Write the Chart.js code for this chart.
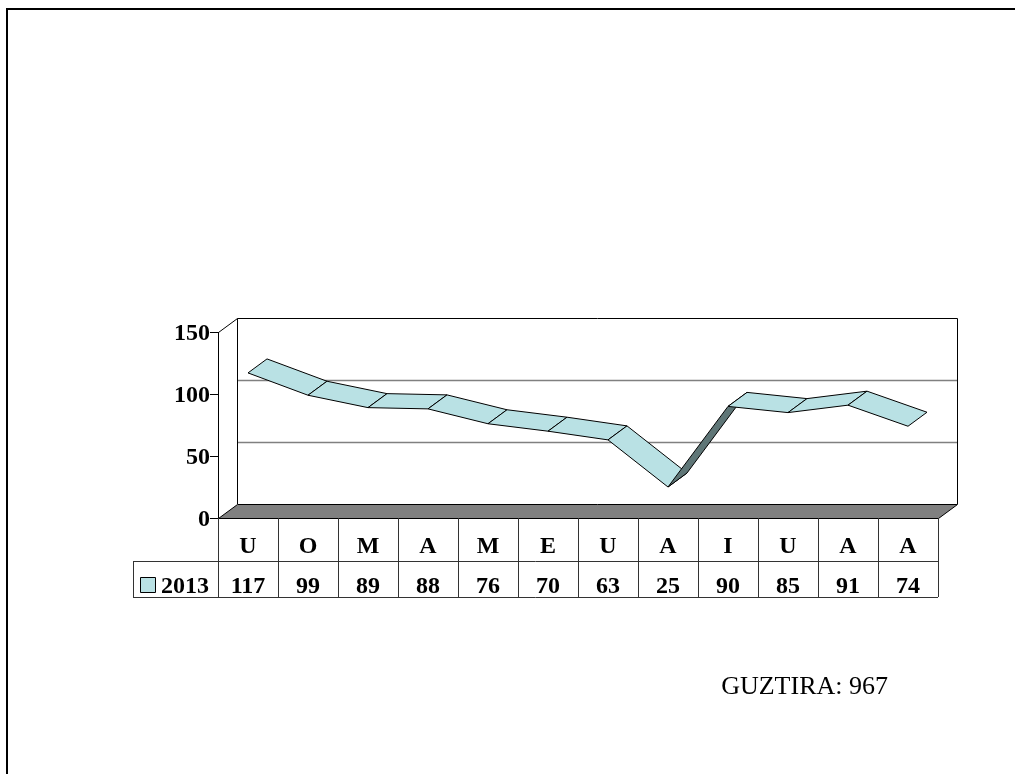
<!DOCTYPE html>
<html>
<head>
<meta charset="utf-8">
<script src="https://cdn.jsdelivr.net/npm/chart.js@4"></script>
<style>
  html, body { margin: 0; padding: 0; background: #fff; }
  #wrap { width: 1015px; height: 774px; }
</style>
</head>
<body>
<div id="wrap"><canvas id="chart" width="1015" height="774"></canvas></div>
<script>
// monthly counts
const categories = ['U', 'O', 'M', 'A', 'M', 'E', 'U', 'A', 'I', 'U', 'A', 'A'];
const values2013 = [117, 99, 89, 88, 76, 70, 63, 25, 90, 85, 91, 74];
const seriesName = '2013';
const yTicks = [0, 50, 100, 150];
const totalText = 'GUZTIRA';

const FONT = "'Liberation Serif', 'Times New Roman', serif";
const RIBBON_TOP = '#b9e1e4';
const RIBBON_UNDER = '#5f7677';
const DX = 19, DY = -14;   // depth offset of the 3d box

function line(ctx, x1, y1, x2, y2) {
    ctx.beginPath();
    ctx.moveTo(x1, y1);
    ctx.lineTo(x2, y2);
    ctx.stroke();
}

const ribbon3d = {
    id: 'ribbon3d',
    beforeDatasetsDraw(chart) {
        const { ctx, chartArea: a, scales: { x, y } } = chart;
        const left = a.left, right = a.right;
        const top = y.getPixelForValue(y.max), bottom = y.getPixelForValue(0);
        ctx.save();

        // outer frame
        ctx.strokeStyle = '#000';
        ctx.lineWidth = 2;
        ctx.strokeRect(7, 9, 1100, 1000);

        // back wall gridlines
        ctx.lineWidth = 1.5;
        ctx.strokeStyle = '#808080';
        yTicks.forEach(v => {
            if (v > 0 && v < y.max) {
                const py = Math.round(y.getPixelForValue(v) + DY) + 0.5;
                line(ctx, left + DX, py, right + DX, py);
            }
        });

        // back wall outline + side edge
        ctx.lineWidth = 1;
        ctx.strokeStyle = '#000';
        ctx.beginPath();
        ctx.moveTo(left + DX + 0.5, bottom + DY);
        ctx.lineTo(left + DX + 0.5, top + DY + 0.5);
        ctx.lineTo(right + DX + 0.5, top + DY + 0.5);
        ctx.lineTo(right + DX + 0.5, bottom + DY);
        ctx.stroke();
        line(ctx, left + 0.5, top + 0.5, left + DX + 0.5, top + DY + 0.5);

        // floor
        ctx.fillStyle = '#808080';
        ctx.beginPath();
        ctx.moveTo(left + 0.5, bottom + 0.5);
        ctx.lineTo(left + DX + 0.5, bottom + DY + 0.5);
        ctx.lineTo(right + DX + 0.5, bottom + DY + 0.5);
        ctx.lineTo(right + 0.5, bottom + 0.5);
        ctx.closePath();
        ctx.fill();
        ctx.stroke();

        // ribbon segments
        const pts = chart.getDatasetMeta(0).data.map(p => ({ x: p.x, y: p.y }));
        ctx.lineJoin = 'round';
        for (let i = 0; i < pts.length - 1; i++) {
            const p = pts[i], q = pts[i + 1];
            const cross = (q.x - p.x) * DY - (q.y - p.y) * DX;
            ctx.fillStyle = cross < 0 ? RIBBON_TOP : RIBBON_UNDER;
            ctx.beginPath();
            ctx.moveTo(p.x, p.y);
            ctx.lineTo(q.x, q.y);
            ctx.lineTo(q.x + DX, q.y + DY);
            ctx.lineTo(p.x + DX, p.y + DY);
            ctx.closePath();
            ctx.fill();
            ctx.stroke();
        }

        // front value axis
        line(ctx, left + 0.5, top, left + 0.5, bottom);
        ctx.font = 'bold 24px ' + FONT;
        ctx.fillStyle = '#000';
        ctx.textAlign = 'right';
        ctx.textBaseline = 'middle';
        yTicks.forEach(v => {
            const py = Math.round(y.getPixelForValue(v)) + 0.5;
            line(ctx, left - 8, py, left, py);
            ctx.fillText(String(v), left - 8, py + 1);
        });

        // data table
        const rowMid = 561, rowEnd = 597, legLeft = 133;
        const half = (x.getPixelForValue(1) - x.getPixelForValue(0)) / 2;
        ctx.strokeStyle = '#333';
        for (let i = 0; i <= categories.length; i++) {
            const px = Math.round(x.getPixelForValue(Math.min(i, categories.length - 1)) + (i < categories.length ? -half : half)) + 0.5;
            line(ctx, px, bottom, px, rowEnd);
        }
        line(ctx, legLeft, rowMid + 0.5, right, rowMid + 0.5);
        line(ctx, legLeft, rowEnd + 0.5, right, rowEnd + 0.5);
        line(ctx, legLeft + 0.5, rowMid, legLeft + 0.5, rowEnd);

        ctx.textAlign = 'center';
        ctx.textBaseline = 'alphabetic';
        categories.forEach((c, i) => {
            const cx = x.getPixelForValue(i);
            ctx.fillText(c, cx, 553);
            ctx.fillText(String(values2013[i]), cx, 593);
        });

        // legend key
        ctx.fillStyle = RIBBON_TOP;
        ctx.fillRect(140.5, 577.5, 15, 15);
        ctx.strokeStyle = '#000';
        ctx.strokeRect(140.5, 577.5, 15, 15);
        ctx.fillStyle = '#000';
        ctx.textAlign = 'left';
        ctx.fillText(seriesName, 161, 593);

        // total
        const total = values2013.reduce((s, v) => s + v, 0);
        ctx.font = '26px ' + FONT;
        ctx.textAlign = 'right';
        ctx.fillText(totalText + ': ' + total, 888, 694);

        ctx.restore();
    }
};

new Chart(document.getElementById('chart'), {
    type: 'line',
    data: {
        labels: categories,
        datasets: [{
            label: seriesName,
            data: values2013,
            showLine: false,
            pointRadius: 0,
            pointHoverRadius: 0
        }]
    },
    options: {
        responsive: false,
        animation: false,
        layout: { padding: { left: 218, right: 77, top: 332, bottom: 256 } },
        plugins: { legend: { display: false }, tooltip: { enabled: false } },
        scales: {
            x: { display: false, offset: true },
            y: { display: false, min: 0, max: 150 }
        }
    },
    plugins: [ribbon3d]
});
</script>
</body>
</html>
